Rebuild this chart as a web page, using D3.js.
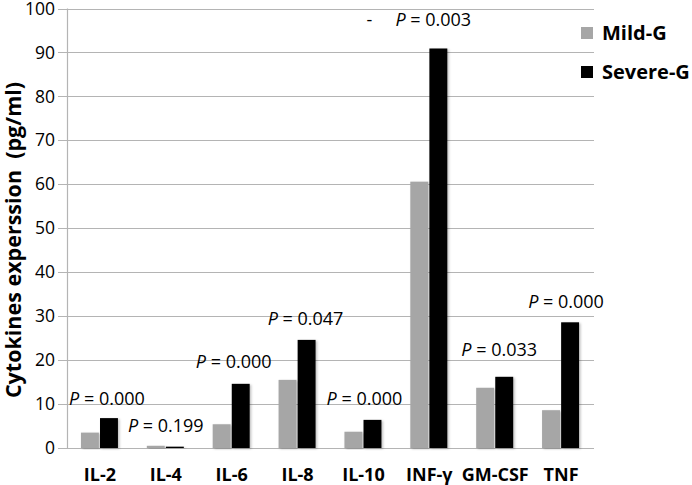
<!DOCTYPE html>
<html>
<head>
<meta charset="utf-8">
<script src="https://cdn.jsdelivr.net/npm/d3@7"></script>
<style>
  body { margin: 0; background: #fff; }
  svg { display: block; }
  text { font-family: "Open Sans", "DejaVu Sans", sans-serif; }
</style>
</head>
<body>
<div id="chart"></div>
<script>
// Datos del gráfico
const categorias = ["IL-2", "IL-4", "IL-6", "IL-8", "IL-10", "INF-γ", "GM-CSF", "TNF"];
const series = ["Mild-G", "Severe-G"];
const mildG = [3.5, 0.5, 5.4, 15.5, 3.7, 60.6, 13.7, 8.6];
const severeG = [6.8, 0.3, 14.6, 24.6, 6.4, 90.9, 16.2, 28.6];
const pValores = ["0.000", "0.199", "0.000", "0.047", "0.000", "0.003", "0.033", "0.000"];
const yTicks = [0, 10, 20, 30, 40, 50, 60, 70, 80, 90, 100];

// Posición de las etiquetas P (nivel en unidades del eje y, desplazamiento en px)
const pNivel = [9.8, 3.6, 18.2, 28, 9.8, 96, 21, 31.8];
const pDesplaz = [7, 0, 2, 8, 1, 4, 4, 5];

const colores = { "Mild-G": "#a6a6a6", "Severe-G": "#000000" };

const width = 692, height = 485;
const mIzq = 67, mDer = 594, mSup = 8.5, mInf = 448;

const svg = d3.select("#chart").append("svg")
    .attr("width", width)
    .attr("height", height);

// Sombra ligera de las barras
const defs = svg.append("defs");
const filtro = defs.append("filter").attr("id", "sombra")
    .attr("x", "-20%").attr("y", "-5%").attr("width", "150%").attr("height", "115%");
filtro.append("feDropShadow")
    .attr("dx", 1.5).attr("dy", 1)
    .attr("stdDeviation", 1.2)
    .attr("flood-color", "#000")
    .attr("flood-opacity", 0.25);

const x0 = d3.scaleBand()
    .domain(categorias)
    .range([mIzq, mDer])
    .padding(0);

const x1 = d3.scaleBand()
    .domain(series)
    .range([-19, 18])
    .paddingInner(0.06);

const y = d3.scaleLinear()
    .domain([0, 100])
    .range([mInf, mSup]);

// Líneas de cuadrícula
svg.append("g")
    .selectAll("line")
    .data(yTicks)
    .enter()
    .append("line")
    .attr("x1", mIzq - 9)
    .attr("x2", mDer)
    .attr("y1", d => Math.round(y(d)) + 0.5)
    .attr("y2", d => Math.round(y(d)) + 0.5)
    .attr("stroke", "#b4b4b4")
    .attr("stroke-width", 1.2);

// Eje y
const ejeY = svg.append("g")
    .attr("transform", `translate(${mIzq - 9}, 0)`)
    .call(d3.axisLeft(y).tickValues(yTicks).tickSize(0).tickPadding(3));
ejeY.select(".domain").remove();
ejeY.selectAll("text")
    .attr("font-family", "Open Sans, sans-serif")
    .attr("font-size", 17.5)
    .attr("fill", "#000");

svg.append("line")
    .attr("x1", mIzq + 0.5).attr("x2", mIzq + 0.5)
    .attr("y1", y(100)).attr("y2", y(0) + 1)
    .attr("stroke", "#b4b4b4")
    .attr("stroke-width", 1.2);

// Barras
const datos = categorias.map((c, i) => ({ cat: c, valores: [
    { serie: "Mild-G", valor: mildG[i] },
    { serie: "Severe-G", valor: severeG[i] }
]}));

const grupos = svg.append("g")
    .selectAll("g")
    .data(datos)
    .enter()
    .append("g")
    .attr("transform", d => `translate(${x0(d.cat) + x0.bandwidth() / 2}, 0)`);

grupos.selectAll("rect")
    .data(d => d.valores)
    .enter()
    .append("rect")
    .attr("x", d => x1(d.serie))
    .attr("y", d => y(d.valor))
    .attr("width", x1.bandwidth())
    .attr("height", d => y(0) - y(d.valor))
    .attr("fill", d => colores[d.serie])
    .attr("filter", "url(#sombra)");

// Eje x (etiquetas de categoría)
const ejeX = svg.append("g")
    .attr("transform", `translate(0, ${mInf})`)
    .call(d3.axisBottom(x0).tickSize(0).tickPadding(20));
ejeX.select(".domain").remove();
ejeX.selectAll("text")
    .attr("font-family", "Open Sans, sans-serif")
    .attr("font-weight", "bold")
    .attr("font-size", 18)
    .attr("fill", "#000");

// Etiquetas de valor P
const etiquetas = svg.append("g")
    .selectAll("text")
    .data(categorias)
    .enter()
    .append("text")
    .attr("x", (d, i) => x0(d) + x0.bandwidth() / 2 + pDesplaz[i])
    .attr("y", (d, i) => y(pNivel[i]))
    .attr("text-anchor", "middle")
    .attr("font-family", "DejaVu Sans, sans-serif")
    .attr("font-size", 18)
    .attr("fill", "#000");
etiquetas.append("tspan").attr("font-style", "italic").text("P");
etiquetas.append("tspan").text((d, i) => " = " + pValores[i]);

// Guion suelto cerca de INF-γ
svg.append("text")
    .attr("x", x0("INF-γ") + x0.bandwidth() / 2 - 60)
    .attr("y", y(96))
    .attr("text-anchor", "middle")
    .attr("font-family", "DejaVu Sans, sans-serif")
    .attr("font-size", 18)
    .text("-");

// Título del eje y
svg.append("text")
    .attr("transform", "rotate(-90)")
    .attr("x", -240)
    .attr("y", 21)
    .attr("text-anchor", "middle")
    .attr("font-weight", "bold")
    .attr("font-size", 21.5)
    .attr("fill", "#000")
    .attr("font-family", "Lato, sans-serif")
    .style("white-space", "pre")
    .text("Cytokines experssion  (pg/ml)");

// Leyenda
const leyenda = svg.append("g")
    .selectAll("g")
    .data(series)
    .enter()
    .append("g")
    .attr("transform", (d, i) => `translate(581, ${27 + i * 39})`);

leyenda.append("rect")
    .attr("width", 12)
    .attr("height", 12)
    .attr("fill", d => colores[d]);

leyenda.append("text")
    .attr("x", 21)
    .attr("y", 12.5)
    .attr("font-weight", "bold")
    .attr("font-size", 20)
    .attr("font-family", "Lato, sans-serif")
    .attr("fill", "#000")
    .text(d => d);
</script>
</body>
</html>
